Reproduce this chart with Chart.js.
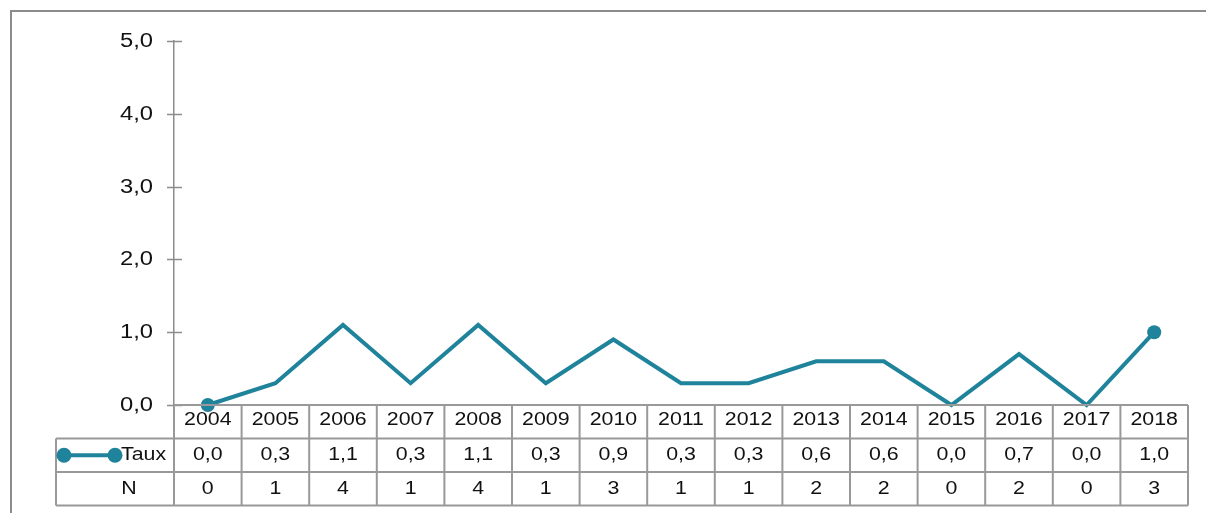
<!DOCTYPE html>
<html>
<head>
<meta charset="utf-8">
<script src="https://cdn.jsdelivr.net/npm/chart.js@4"></script>
<style>
html,body{margin:0;padding:0;background:#fff;}
#wrap{width:1206px;height:513px;position:relative;}
</style>
</head>
<body>
<div id="wrap"><canvas id="c" width="1206" height="513"></canvas></div>
<script>
const years = ['2004','2005','2006','2007','2008','2009','2010','2011','2012','2013','2014','2015','2016','2017','2018'];
const taux = [0.0,0.3,1.1,0.3,1.1,0.3,0.9,0.3,0.3,0.6,0.6,0.0,0.7,0.0,1.0];
const nCases = [0,1,4,1,4,1,3,1,1,2,2,0,2,0,3];
const seriesName = 'Taux';
const countName = 'N';
const yTicks = [0,1,2,3,4,5];

const LINE = '#1e839b';
const GRID = '#8c8c8c';
const FONT = '"Liberation Sans", Arial, Helvetica, sans-serif';
const STRETCH = 1.22;
const fmt = v => v.toFixed(1).replace('.', ',');

const radii = taux.map((v,i) => (i === 0 || i === taux.length-1) ? 7 : 0);

function sText(ctx, text, x, y, align, size) {
  ctx.save();
  ctx.translate(x, y);
  ctx.scale(STRETCH, 1);
  ctx.font = size + 'px ' + FONT;
  ctx.textAlign = align;
  ctx.textBaseline = 'middle';
  ctx.fillStyle = '#111';
  ctx.fillText(text, 0, 0);
  ctx.restore();
}

const tablePlugin = {
  id: 'dataTable',
  beforeDraw(chart) {
    const ctx = chart.ctx;
    ctx.save();
    ctx.fillStyle = '#fff';
    ctx.fillRect(0,0,chart.width,chart.height);
    ctx.strokeStyle = GRID;
    ctx.lineWidth = 2;
    ctx.strokeRect(11, 11, 1400, 700);
    ctx.restore();
  },
  afterDatasetsDraw(chart) {
    const ctx = chart.ctx;
    const x = chart.scales.x, y = chart.scales.y;
    const area = chart.chartArea;
    const left = area.left, right = area.right;
    const top0 = area.bottom;
    const rowH = 33.5;
    const legL = 56;
    const colW = (right - left) / years.length;
    ctx.save();
    // y tick marks crossing the axis, and tick labels
    ctx.strokeStyle = GRID; ctx.lineWidth = 1.5;
    y.ticks.forEach(t => {
      const py = Math.round(y.getPixelForValue(t.value)) + 0.5;
      ctx.beginPath(); ctx.moveTo(left - 7, py); ctx.lineTo(left + 8, py); ctx.stroke();
      sText(ctx, fmt(t.value), 153 / STRETCH * STRETCH, py, 'right', 19.5);
    });
    // table lines
    ctx.strokeStyle = '#999'; ctx.lineWidth = 2;
    const r1 = top0, r2 = top0 + rowH, r3 = top0 + 2*rowH, r4 = top0 + 3*rowH;
    ctx.beginPath();
    ctx.moveTo(left, r1); ctx.lineTo(right, r1);
    ctx.moveTo(legL, r2); ctx.lineTo(right, r2);
    ctx.moveTo(legL, r3); ctx.lineTo(right, r3);
    ctx.moveTo(legL, r4); ctx.lineTo(right, r4);
    ctx.moveTo(legL, r2); ctx.lineTo(legL, r4);
    for (let i = 0; i <= years.length; i++) {
      const px = left + i*colW;
      ctx.moveTo(px, r1); ctx.lineTo(px, r4);
    }
    ctx.stroke();
    // texts
    years.forEach((yr, i) => {
      const cx = x.getPixelForValue(i);
      sText(ctx, yr, cx, r1 + rowH/2 - 2, 'center', 17.5);
      sText(ctx, fmt(taux[i]), cx, r2 + rowH/2, 'center', 17.5);
      sText(ctx, String(nCases[i]), cx, r3 + rowH/2, 'center', 17.5);
    });
    // legend row
    const ly = r2 + rowH/2;
    ctx.strokeStyle = LINE; ctx.lineWidth = 4;
    ctx.beginPath(); ctx.moveTo(64, ly); ctx.lineTo(115, ly); ctx.stroke();
    ctx.fillStyle = LINE;
    [64,115].forEach(cx => { ctx.beginPath(); ctx.arc(cx, ly, 7.5, 0, Math.PI*2); ctx.fill(); });
    sText(ctx, seriesName, 121, ly, 'left', 17.5);
    sText(ctx, countName, 129, r3 + rowH/2, 'center', 17.5);
    ctx.restore();
  }
};

new Chart(document.getElementById('c'), {
  type: 'line',
  data: {
    labels: years,
    datasets: [{
      label: seriesName,
      data: taux,
      borderColor: LINE,
      backgroundColor: LINE,
      borderWidth: 4,
      pointRadius: radii,
      pointHoverRadius: radii,
      pointBackgroundColor: LINE,
      pointBorderWidth: 0,
      tension: 0,
      clip: false
    }]
  },
  options: {
    responsive: false,
    animation: false,
    devicePixelRatio: 1,
    layout: { padding: { left: 0, right: 18, top: 41, bottom: 108 } },
    plugins: { legend: { display: false }, tooltip: { enabled: false } },
    scales: {
      x: {
        type: 'category',
        offset: true,
        display: false
      },
      y: {
        min: 0, max: 5,
        afterFit: s => { s.width = 174; },
        afterBuildTicks: s => { s.ticks = yTicks.map(v => ({ value: v })); },
        ticks: { display: false },
        grid: { display: false },
        border: { display: true, color: GRID, width: 1.5 }
      }
    }
  },
  plugins: [tablePlugin]
});
</script>
</body>
</html>
